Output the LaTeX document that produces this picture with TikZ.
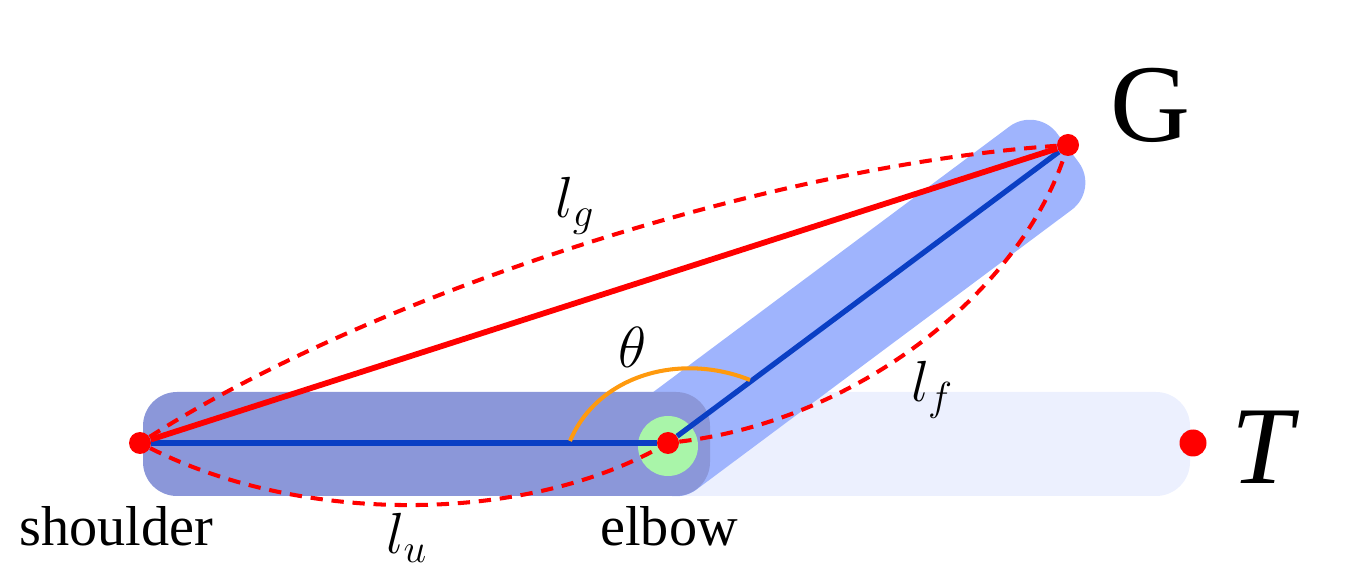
\documentclass[tikz,border=0pt]{standalone}
\usepackage{fix-cm}
\usepackage{fontspec}
\setmainfont{Liberation Serif}
\usepackage{tikz}
\definecolor{armdark}{HTML}{8B97D9}
\definecolor{armmid}{HTML}{9FB4FD}
\definecolor{armpale}{HTML}{ECF0FE}
\definecolor{bone}{HTML}{0A3FC4}
\definecolor{hinge}{HTML}{A9F5A9}
\definecolor{sweep}{HTML}{FF9A0E}
\tikzset{bar/.style={rounded corners=34*0.02cm,inner sep=0pt,minimum height=104*0.02cm},
joint/.style={circle,fill=red,inner sep=0pt,minimum size=22*0.02cm},
solidred/.style={draw=red,line width=3.3pt},
bluebone/.style={draw=bone,line width=3pt},
dashred/.style={draw=red,line width=2.3pt,dash pattern=on 7pt off 5pt},
caption/.style={font=\fontsize{32}{34}\selectfont,inner sep=0pt},
sym/.style={font=\fontsize{33}{35}\selectfont,inner sep=0pt},
big/.style={font=\fontsize{63}{66}\selectfont,inner sep=0pt}}
\begin{document}
\begin{tikzpicture}[x=0.02cm,y=-0.02cm]
\useasboundingbox (0,0) rectangle (1352,570);
\node[bar,fill=armpale,minimum width=590*0.02cm] (rest) at (895,444) {};
\node[bar,fill=armmid,minimum width=536*0.02cm,rotate=36.7] (fore) at (853,308) {};
\node[bar,fill=armdark,minimum width=567*0.02cm] (upper) at (426.5,444) {};
\node[circle,fill=hinge,minimum size=60*0.02cm,inner sep=0pt] (ring) at (668,446) {};
\node[joint] (shoulder) at (140,443) {};
\node[joint] (elbow) at (668,443) {};
\node[joint] (grip) at (1068,145) {};
\node[joint,minimum size=27*0.02cm] (target) at (1193,443) {};
\coordinate (sweepa) at (570,441);
\coordinate (sweepb) at (750,380);
\draw[bluebone] (shoulder)--(elbow);
\draw[bluebone] (elbow)--(grip);
\draw[solidred] (shoulder)--(grip);
\draw[sweep,line width=2.3pt] (sweepa) .. controls (598,375) and (680,352) .. (sweepb);
\draw[dashred] (shoulder) .. controls (380,290) and (780,165) .. (grip);
\draw[dashred] (shoulder) .. controls (300,524) and (520,524) .. (elbow);
\draw[dashred] (elbow) .. controls (860,420) and (1020,290) .. (grip);
\node[caption] (shoulderlab) at (116,526) {shoulder};
\node[caption] (elbowlab) at (669,526) {elbow};
\node[sym] (lg) at (575,206) {$l_g$};
\node[sym] (lu) at (407,538) {$l_u$};
\node[sym] (lf) at (932,390) {$l_f$};
\node[sym] (theta) at (633,347) {$\theta$};
\node[big] (glab) at (1150,105) {G};
\node[big] (tlab) at (1266,447) {\textit{T}};
\end{tikzpicture}
\end{document}
